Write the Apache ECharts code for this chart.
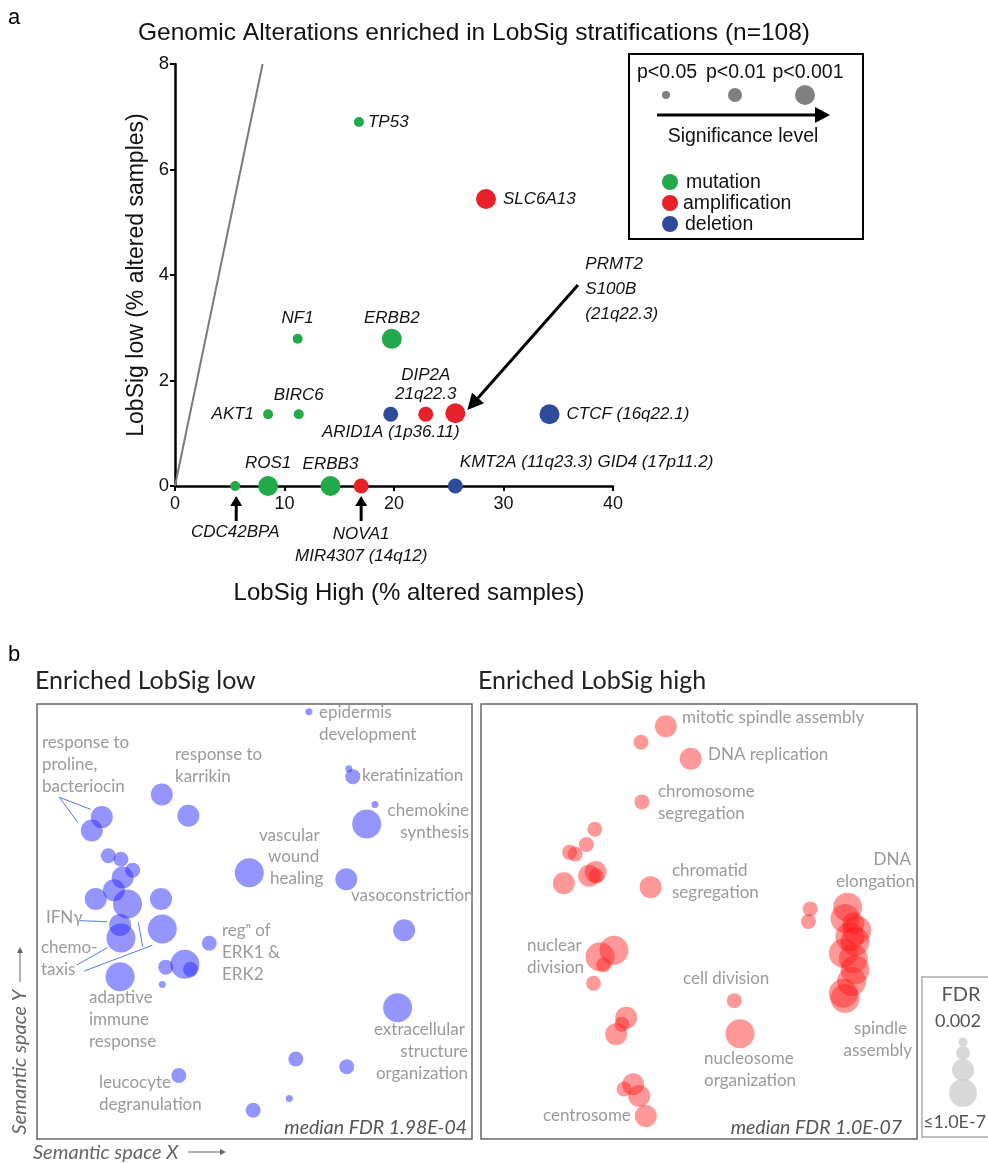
<!DOCTYPE html>
<html>
<head>
<meta charset="utf-8">
<script src="https://cdn.jsdelivr.net/npm/echarts@6/dist/echarts.min.js"></script>
<style>
  html, body { margin: 0; padding: 0; background: #fff; }
  #chart { width: 988px; height: 1163px; }
</style>
</head>
<body>
<div id="chart"></div>
<script>
// ---- panel a: genomic alterations (x = LobSig high %, y = LobSig low %)
const mutationGenes = ["TP53", "NF1", "ERBB2", "AKT1", "BIRC6", "CDC42BPA", "ROS1", "ERBB3"];
const mutationHigh = [16.8, 11.2, 19.8, 8.5, 11.3, 5.5, 8.5, 14.2];
const mutationLow = [6.9, 2.79, 2.79, 1.36, 1.36, 0, 0, 0];
const mutationSig = [1, 1, 3, 1, 1, 1, 3, 3];

const amplGenes = ["SLC6A13", "DIP2A", "PRMT2", "NOVA1"];
const amplHigh = [28.4, 22.9, 25.6, 17.0];
const amplLow = [5.44, 1.36, 1.38, 0];
const amplSig = [3, 2, 3, 2];

const delGenes = ["ARID1A", "CTCF", "KMT2A"];
const delHigh = [19.7, 34.2, 25.6];
const delLow = [1.36, 1.36, 0];
const delSig = [2, 3, 2];

const geneLabels = {
  TP53: "TP53", NF1: "NF1", ERBB2: "ERBB2", AKT1: "AKT1", BIRC6: "BIRC6",
  CDC42BPA: "CDC42BPA", ROS1: "ROS1", ERBB3: "ERBB3",
  SLC6A13: "SLC6A13", DIP2A: "DIP2A\n21q22.3", PRMT2: "PRMT2\nS100B\n(21q22.3)",
  NOVA1: "NOVA1\nMIR4307 (14q12)",
  ARID1A: "ARID1A (1p36.11)", CTCF: "CTCF (16q22.1)", KMT2A: "KMT2A (11q23.3) GID4 (17p11.2)"
};

// ---- panel b: GO term clusters in semantic space (fdr class 1 = 0.002 ... 4 = <=1e-7)
const lowX = [62.5, 71.7, 72.6, 77.7, 75.8, 28.7, 34.8, 14.9, 12.6, 16.4, 19.3, 22.0, 19.7, 17.7,
  13.5, 20.8, 28.5, 19.1, 19.3, 28.8, 39.6, 34.0, 35.3, 29.6, 28.8, 19.1, 48.8, 71.1, 84.4, 82.9,
  32.6, 59.5, 71.2, 58.0, 49.7];
const lowY = [98.2, 85.1, 83.3, 76.9, 72.4, 79.2, 74.3, 74.0, 70.9, 65.1, 64.3, 61.8, 60.1, 57.2,
  55.2, 54.0, 55.2, 49.2, 46.2, 48.3, 45.0, 40.2, 39.0, 39.5, 35.5, 37.3, 61.2, 59.7, 48.0, 30.2,
  14.6, 18.4, 16.6, 9.3, 6.6];
const lowFdr = [1, 1, 2, 1, 4, 3, 3, 3, 3, 2, 2, 2, 3, 3, 3, 4, 3, 3, 4, 4, 2, 4, 2, 2, 1, 4, 4, 3,
  3, 4, 2, 2, 2, 1, 2];

const highX = [42.4, 36.7, 48.1, 36.9, 26.1, 24.2, 20.3, 21.6, 26.3, 24.8, 26.4, 19.0, 38.9, 75.5,
  75.1, 84.1, 83.5, 85.4, 86.2, 84.6, 85.8, 83.1, 85.4, 85.8, 85.0, 83.1, 83.5, 30.5, 27.3, 28.1,
  25.8, 33.3, 32.3, 31.0, 58.1, 59.4, 34.9, 32.8, 36.3, 37.8];
const highY = [94.9, 91.2, 87.4, 77.5, 71.2, 67.7, 65.9, 65.5, 61.4, 60.5, 60.5, 58.8, 57.9, 52.9,
  50.0, 53.3, 50.7, 49.6, 48.0, 46.5, 45.4, 42.7, 41.5, 38.9, 36.2, 33.5, 32.3, 43.4, 41.9, 40.0,
  35.8, 27.9, 26.4, 24.1, 31.8, 24.2, 12.6, 11.5, 9.9, 5.3];
const highFdr = [3, 2, 3, 2, 2, 2, 2, 2, 3, 3, 2, 3, 3, 2, 2, 4, 4, 3, 4, 4, 4, 4, 4, 4, 4, 4, 4, 4,
  4, 2, 2, 3, 2, 3, 2, 4, 3, 2, 3, 3];

// styles
const GREEN = "#21a94a", RED = "#e62129", BLUE = "#2e4b9b";
const sigSize = [0, 10, 15, 20];
const fdrSize = [0, 7, 15, 22, 29];
const ARIAL = "Liberation Sans, Arial, sans-serif";
const CAL = "Lato, 'Open Sans', sans-serif";
const GRAY_TXT = "#9a9a9a";

const labelPlace = {
  TP53: { position: "right", distance: 4 },
  NF1: { position: "top", distance: 7 },
  ERBB2: { position: "top", distance: 2 },
  AKT1: { position: "left", distance: 9 },
  BIRC6: { position: "top", distance: 5 },
  CDC42BPA: { position: "bottom", distance: 33 },
  ROS1: { position: "top", distance: 4 },
  ERBB3: { position: "top", distance: 3 },
  SLC6A13: { position: "right", distance: 7 },
  DIP2A: { position: "top", distance: 3, lineHeight: 19 },
  PRMT2: { position: [140, -151], lineHeight: 25, align: "left", verticalAlign: "top" },
  NOVA1: { position: "bottom", distance: 30, lineHeight: 22 },
  ARID1A: { position: "bottom", distance: 2 },
  CTCF: { position: "right", distance: 7 },
  KMT2A: { position: [12, -25], align: "left", verticalAlign: "top" }
};

function geneData(names, hi, lo, sig) {
  return names.map((n, i) => ({
    name: n,
    value: [hi[i], lo[i], sig[i]],
    label: Object.assign({ show: true }, labelPlace[n])
  }));
}

function zip(xs, ys, cls) {
  return xs.map((x, i) => [x, ys[i], cls[i]]);
}

const geneLabelStyle = {
  formatter: (p) => geneLabels[p.name],
  fontFamily: ARIAL,
  fontStyle: "italic",
  fontSize: 17,
  color: "#111"
};

function geneSeries(name, color, data) {
  return {
    name: name,
    type: "scatter",
    xAxisIndex: 0,
    yAxisIndex: 0,
    data: data,
    symbolSize: (v) => sigSize[v[2]],
    itemStyle: { color: color, opacity: 1 },
    label: geneLabelStyle,
    emphasis: { disabled: true },
    clip: false,
    z: 5
  };
}

const chart = echarts.init(document.getElementById("chart"), null, { renderer: "canvas" });

chart.setOption({
  backgroundColor: "#fff",
  animation: false,
  grid: [
    { left: 175, top: 64, width: 438, height: 422 },
    { left: 37, top: 704, width: 435, height: 435, show: true, borderColor: "#666", borderWidth: 1.5 },
    { left: 481, top: 704, width: 436, height: 435, show: true, borderColor: "#666", borderWidth: 1.5 }
  ],
  xAxis: [
    {
      gridIndex: 0, type: "value", min: 0, max: 40, interval: 10,
      axisLine: { show: true, onZero: false, lineStyle: { color: "#000", width: 2.5 } },
      axisTick: { show: true, length: 5, lineStyle: { color: "#000", width: 2 } },
      axisLabel: { color: "#111", fontSize: 18, fontFamily: ARIAL, margin: 9 },
      splitLine: { show: false }
    },
    { gridIndex: 1, type: "value", min: 0, max: 100, show: false },
    { gridIndex: 2, type: "value", min: 0, max: 100, show: false }
  ],
  yAxis: [
    {
      gridIndex: 0, type: "value", min: 0, max: 8, interval: 2,
      axisLine: { show: true, onZero: false, lineStyle: { color: "#000", width: 2.5 } },
      axisTick: { show: true, length: 5, lineStyle: { color: "#000", width: 2 } },
      axisLabel: { color: "#111", fontSize: 18.5, fontFamily: ARIAL, margin: 6 },
      splitLine: { show: false }
    },
    { gridIndex: 1, type: "value", min: 0, max: 100, show: false },
    { gridIndex: 2, type: "value", min: 0, max: 100, show: false }
  ],
  series: [
    {
      type: "line", xAxisIndex: 0, yAxisIndex: 0,
      data: [[0, 0], [8, 8]],
      symbol: "none",
      lineStyle: { color: "#7a7a7a", width: 2 },
      emphasis: { disabled: true },
      z: 3
    },
    geneSeries("mutation", GREEN, geneData(mutationGenes, mutationHigh, mutationLow, mutationSig)),
    geneSeries("amplification", RED, geneData(amplGenes, amplHigh, amplLow, amplSig)),
    geneSeries("deletion", BLUE, geneData(delGenes, delHigh, delLow, delSig)),
    {
      name: "Enriched LobSig low", type: "scatter", xAxisIndex: 1, yAxisIndex: 1,
      data: zip(lowX, lowY, lowFdr),
      symbolSize: (v) => fdrSize[v[2]],
      itemStyle: { color: "rgba(40,40,255,0.62)" },
      emphasis: { disabled: true }
    },
    {
      name: "Enriched LobSig high", type: "scatter", xAxisIndex: 2, yAxisIndex: 2,
      data: zip(highX, highY, highFdr),
      symbolSize: (v) => fdrSize[v[2]],
      itemStyle: { color: "rgba(255,25,25,0.56)" },
      emphasis: { disabled: true }
    }
  ]
});

// ---- annotations
function txt(x, y, text, opt) {
  opt = opt || {};
  return {
    type: "text", x: x, y: y, rotation: opt.rotation || 0, z: 10, silent: true,
    style: {
      text: text,
      font: opt.font || ("17px " + CAL),
      fill: opt.fill || GRAY_TXT,
      align: opt.align || "left",
      verticalAlign: "middle"
    }
  };
}

function arrow(x1, y1, x2, y2, lw, hl, hw, color) {
  const dx = x2 - x1, dy = y2 - y1, len = Math.hypot(dx, dy);
  const ux = dx / len, uy = dy / len, nx = -uy, ny = ux;
  const bx = x2 - ux * hl, by = y2 - uy * hl;
  return [
    { type: "line", z: 10, silent: true, shape: { x1: x1, y1: y1, x2: bx, y2: by },
      style: { stroke: color, lineWidth: lw } },
    { type: "polygon", z: 10, silent: true,
      shape: { points: [[x2, y2], [bx + nx * hw, by + ny * hw], [bx - nx * hw, by - ny * hw]] },
      style: { fill: color } }
  ];
}

function line(x1, y1, x2, y2, color, w) {
  return { type: "line", z: 10, silent: true, shape: { x1: x1, y1: y1, x2: x2, y2: y2 },
    style: { stroke: color, lineWidth: w } };
}

function dot(cx, cy, r, color) {
  return { type: "circle", z: 10, silent: true, shape: { cx: cx, cy: cy, r: r }, style: { fill: color } };
}

const toPx = (p) => chart.convertToPixel({ gridIndex: 0 }, p);
const cdc = toPx([mutationHigh[5], 0]);
const nova = toPx([amplHigh[3], 0]);
const bigFrom = toPx([36.8, 3.81]);
const bigTo = toPx([26.7, 1.44]);

const A = (s) => s + "px " + ARIAL;
const g = [];

// panel a texts
g.push(txt(8, 18, "a", { font: A(22), fill: "#000" }));
g.push(txt(474, 33, "Genomic Alterations enriched in LobSig stratifications (n=108)", { font: A(24.5), fill: "#111", align: "center" }));
g.push(txt(409, 593, "LobSig High (% altered samples)", { font: A(24), fill: "#111", align: "center" }));
g.push(txt(137, 275, "LobSig low (% altered samples)", { font: A(23), fill: "#111", align: "center", rotation: Math.PI / 2 }));
g.push(...arrow(cdc[0] + 1, cdc[1] + 35, cdc[0] + 1, cdc[1] + 10, 3, 10, 6, "#000"));
g.push(...arrow(nova[0], nova[1] + 35, nova[0], nova[1] + 10, 3, 10, 6, "#000"));
g.push(...arrow(bigFrom[0], bigFrom[1], bigTo[0], bigTo[1], 3, 16, 8, "#000"));

// panel a legend
g.push({ type: "rect", z: 9, silent: true, shape: { x: 629, y: 54, width: 234, height: 185 },
  style: { fill: "#fff", stroke: "#000", lineWidth: 2 } });
g.push(txt(667, 73, "p<0.05", { font: A(19.5), fill: "#111", align: "center" }));
g.push(txt(736, 73, "p<0.01", { font: A(19.5), fill: "#111", align: "center" }));
g.push(txt(808, 73, "p<0.001", { font: A(19.5), fill: "#111", align: "center" }));
g.push(dot(666, 95, 4, "#808080"), dot(735, 95, 7, "#808080"), dot(805, 95, 10, "#808080"));
g.push(...arrow(657, 115, 830, 115, 3, 15, 8, "#000"));
g.push(txt(743, 137, "Significance level", { font: A(19.5), fill: "#111", align: "center" }));
g.push(dot(670, 182, 8, GREEN), dot(670, 203, 8, RED), dot(670, 224, 8, BLUE));
g.push(txt(686, 183, "mutation", { font: A(19.5), fill: "#111" }));
g.push(txt(683, 204, "amplification", { font: A(19.5), fill: "#111" }));
g.push(txt(685, 225, "deletion", { font: A(19.5), fill: "#111" }));

// panel b headers
const C = (s) => s + "px " + CAL;
g.push(txt(8, 655, "b", { font: A(22), fill: "#000" }));
g.push(txt(35, 681, "Enriched LobSig low", { font: C(25), fill: "#222" }));
g.push(txt(478, 681, "Enriched LobSig high", { font: C(25), fill: "#222" }));

const lowLabels = [
  ["epidermis", 319, 713], ["development", 319, 735],
  ["response to", 42, 743], ["proline,", 42, 765], ["bacteriocin", 42, 787],
  ["response to", 175, 755], ["karrikin", 175, 777],
  ["keratinization", 362, 776],
  ["chemokine", 469, 811, "right"], ["synthesis", 469, 833, "right"],
  ["vascular", 259, 836], ["wound", 268, 857], ["healing", 270, 879],
  ["vasoconstriction", 351, 896],
  ["IFN\u03b3", 46, 918],
  ["chemo-", 41, 948], ["taxis", 41, 970],
  ["reg\u207f of", 222, 931], ["ERK1 &", 222, 953], ["ERK2", 222, 975],
  ["adaptive", 89, 998], ["immune", 89, 1020], ["response", 89, 1042],
  ["extracellular", 465, 1030, "right"], ["structure", 468, 1052, "right"], ["organization", 468, 1074, "right"],
  ["leucocyte", 99, 1083], ["degranulation", 99, 1105]
];
const highLabels = [
  ["mitotic spindle assembly", 682, 718], ["DNA replication", 708, 755],
  ["chromosome", 658, 792], ["segregation", 658, 814],
  ["chromatid", 672, 871], ["segregation", 672, 893],
  ["DNA", 911, 860, "right"], ["elongation", 915, 882, "right"],
  ["nuclear", 527, 946], ["division", 527, 968],
  ["cell division", 683, 979],
  ["spindle", 907, 1029, "right"], ["assembly", 912, 1051, "right"],
  ["nucleosome", 704, 1059], ["organization", 704, 1081],
  ["centrosome", 543, 1116]
];
lowLabels.concat(highLabels).forEach((l) => g.push(txt(l[1], l[2], l[0], { font: C(17), align: l[3] || "left" })));

// connector lines
const LB = "#5577dd";
g.push(line(59.3, 797.3, 90.7, 809.3, LB, 1), line(59.3, 797.3, 77.3, 821.7, LB, 1));
g.push(line(80, 920.7, 107.3, 921.7, LB, 1));
g.push(line(76.7, 965, 107.3, 947.7, LB, 1), line(84.3, 971, 152.3, 945.3, LB, 1));
g.push(line(138.3, 922.3, 142.7, 946.7, LB, 1));

g.push(txt(467, 1128, "median FDR 1.98E-04", { font: "italic " + C(19.5), fill: "#555", align: "right" }));
g.push(txt(902, 1128, "median FDR 1.0E-07", { font: "italic " + C(19.5), fill: "#555", align: "right" }));

// semantic space axis hints
g.push(txt(20, 1062, "Semantic space Y", { font: "italic " + C(20), fill: "#666", align: "center", rotation: Math.PI / 2 }));
g.push(...arrow(20, 982, 20, 947, 1, 6, 3, "#666"));
g.push(txt(33, 1153, "Semantic space X", { font: "italic " + C(20), fill: "#666" }));
g.push(...arrow(188, 1152, 226, 1152, 1, 6, 3, "#666"));

// FDR legend
g.push({ type: "rect", z: 9, silent: true, shape: { x: 922, y: 977, width: 90, height: 160 },
  style: { fill: "#fff", stroke: "#aaa", lineWidth: 1.5 } });
g.push(txt(961, 995, "FDR", { font: C(20), fill: "#555", align: "center" }));
g.push(txt(958, 1021, "0.002", { font: C(18), fill: "#555", align: "center" }));
g.push(dot(963, 1093, 14, "rgba(200,200,200,0.7)"), dot(963, 1070, 11, "rgba(200,200,200,0.7)"),
  dot(963, 1053, 7, "rgba(200,200,200,0.7)"), dot(963, 1042, 4.5, "rgba(200,200,200,0.7)"));
g.push(txt(923, 1122, "\u22641.0E-7", { font: C(18), fill: "#555" }));

chart.setOption({ graphic: g });
</script>
</body>
</html>
